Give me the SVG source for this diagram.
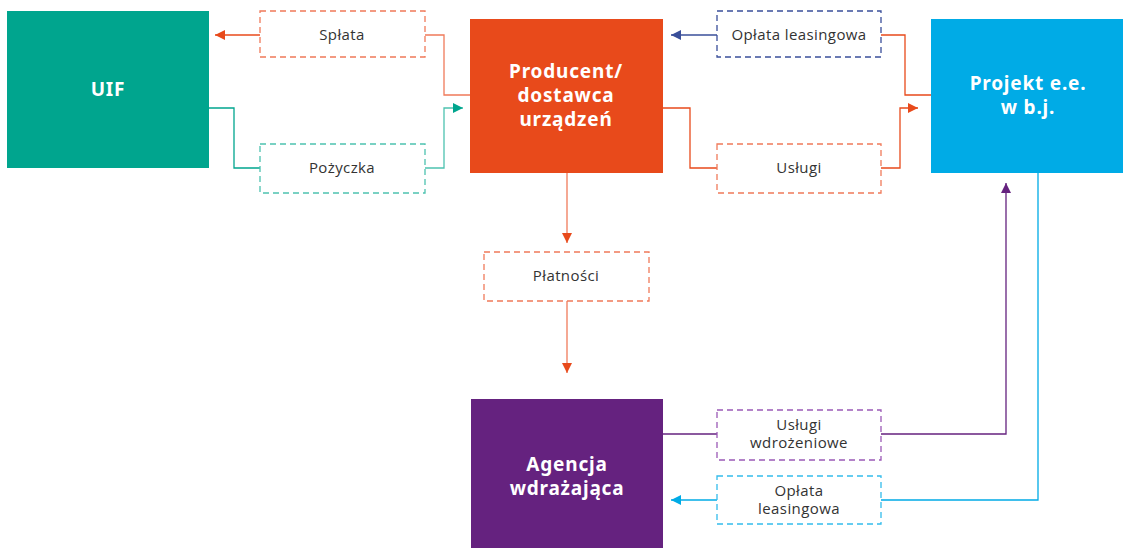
<svg xmlns="http://www.w3.org/2000/svg" width="1123" height="548" viewBox="0 0 1123 548">
<style>
.node-title{font-family:"Noto Sans","Liberation Sans",sans-serif;font-weight:700;font-size:19px;letter-spacing:0.8px;fill:#fff;text-anchor:middle}
.lbl{font-family:"Open Sans","Noto Sans",sans-serif;font-size:15px;letter-spacing:0.4px;fill:#333;text-anchor:middle}
.box{fill:#fff;stroke-width:1.3;stroke-dasharray:6 4}
.ln{fill:none;stroke-width:1.3}
</style>
<defs>
<marker id="aO" viewBox="0 0 10 10" refX="10" refY="5" markerWidth="10" markerHeight="10" markerUnits="userSpaceOnUse" orient="auto"><path d="M0,0L10,5L0,10z" fill="#E84A1B"/></marker>
<marker id="aT" viewBox="0 0 10 10" refX="10" refY="5" markerWidth="10" markerHeight="10" markerUnits="userSpaceOnUse" orient="auto"><path d="M0,0L10,5L0,10z" fill="#00A58E"/></marker>
<marker id="aN" viewBox="0 0 10 10" refX="10" refY="5" markerWidth="10" markerHeight="10" markerUnits="userSpaceOnUse" orient="auto"><path d="M0,0L10,5L0,10z" fill="#3A4F9A"/></marker>
<marker id="aP" viewBox="0 0 10 10" refX="10" refY="5" markerWidth="10" markerHeight="10" markerUnits="userSpaceOnUse" orient="auto"><path d="M0,0L10,5L0,10z" fill="#65227F"/></marker>
<marker id="aB" viewBox="0 0 10 10" refX="10" refY="5" markerWidth="10" markerHeight="10" markerUnits="userSpaceOnUse" orient="auto"><path d="M0,0L10,5L0,10z" fill="#00ABE6"/></marker>
</defs>
<g id="connectors">
<path class="ln" stroke="#E84A1B" d="M260,35H215" marker-end="url(#aO)"/>
<path class="ln" stroke="#F07A5A" d="M425,35H444V95H470"/>
<path class="ln" stroke="#00A58E" d="M209,108H234V168H260"/>
<path class="ln" stroke="#4DC2B0" d="M425,168H444V108H463" marker-end="url(#aT)"/>
<path class="ln" stroke="#3A4F9A" d="M717,35H671" marker-end="url(#aN)"/>
<path class="ln" stroke="#E84A1B" d="M881,35H905V95H931"/>
<path class="ln" stroke="#E84A1B" d="M663,108H690V168H717"/>
<path class="ln" stroke="#E84A1B" d="M881,168H900V108H918" marker-end="url(#aO)"/>
<path class="ln" stroke="#F07A5A" d="M567,173V243" marker-end="url(#aO)"/>
<path class="ln" stroke="#F07A5A" d="M567,301V373" marker-end="url(#aO)"/>
<path class="ln" stroke="#65227F" d="M663,434H717"/>
<path class="ln" stroke="#65227F" d="M881,434H1006V183" marker-end="url(#aP)"/>
<path class="ln" stroke="#00ABE6" d="M1038,173V500H881"/>
<path class="ln" stroke="#00ABE6" d="M717,500H671" marker-end="url(#aB)"/>
</g>
<g id="uif"><rect x="7" y="11" width="202" height="157" fill="#00A58E"/><text class="node-title" x="108" y="96">UIF</text></g>
<g id="producent"><rect x="470" y="19" width="193" height="154" fill="#E84A1B"/><text class="node-title" x="566" y="78">Producent/</text><text class="node-title" x="566" y="102">dostawca</text><text class="node-title" x="566" y="126">urządzeń</text></g>
<g id="projekt"><rect x="931" y="19" width="192" height="154" fill="#00ABE6"/><text class="node-title" x="1028" y="90">Projekt e.e.</text><text class="node-title" x="1028" y="114">w b.j.</text></g>
<g id="agencja"><rect x="471" y="399" width="192" height="149" fill="#65227F"/><text class="node-title" x="567" y="471">Agencja</text><text class="node-title" x="567" y="495">wdrażająca</text></g>
<g id="splata"><rect class="box" x="260" y="11" width="165" height="46" stroke="#F07A5A"/><text class="lbl" x="342" y="40">Spłata</text></g>
<g id="pozyczka"><rect class="box" x="260" y="144" width="165" height="49" stroke="#4DC2B0"/><text class="lbl" x="342" y="173">Pożyczka</text></g>
<g id="oplata1"><rect class="box" x="717" y="11" width="164" height="46" stroke="#3A4F9A"/><text class="lbl" x="799" y="40">Opłata leasingowa</text></g>
<g id="uslugi"><rect class="box" x="717" y="144" width="164" height="49" stroke="#F07A5A"/><text class="lbl" x="799" y="173">Usługi</text></g>
<g id="platnosci"><rect class="box" x="484" y="252" width="165" height="49" stroke="#F07A5A"/><text class="lbl" x="566" y="281">Płatności</text></g>
<g id="uslugi-wdr"><rect class="box" x="717" y="410" width="164" height="50" stroke="#9B59B6"/><text class="lbl" x="799" y="430">Usługi</text><text class="lbl" x="799" y="448">wdrożeniowe</text></g>
<g id="oplata2"><rect class="box" x="717" y="476" width="164" height="48" stroke="#33BCEB"/><text class="lbl" x="799" y="496">Opłata</text><text class="lbl" x="799" y="514">leasingowa</text></g>
</svg>
